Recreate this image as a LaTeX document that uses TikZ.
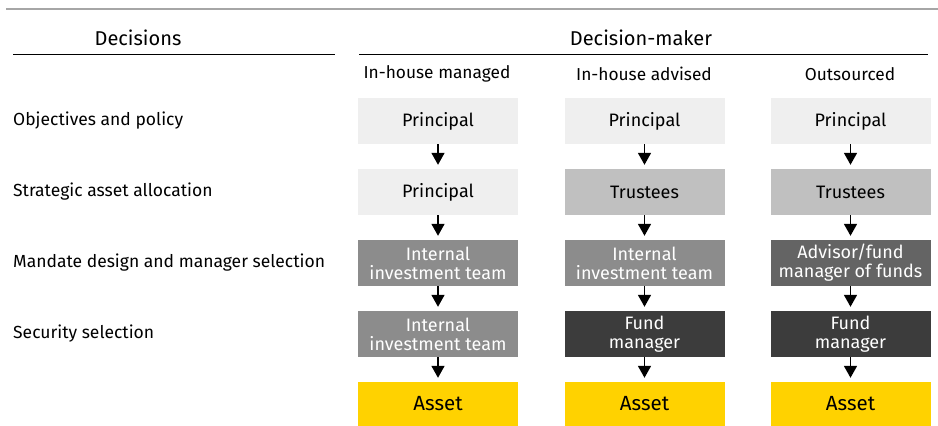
\documentclass[tikz,border=0pt]{standalone}
\usepackage{fontspec}
\setmainfont{Fira Sans}
\usetikzlibrary{arrows.meta}
\definecolor{rowA}{HTML}{EFEFEF}
\definecolor{rowB}{HTML}{C0C0C0}
\definecolor{rowC}{HTML}{8C8C8C}
\definecolor{rowD}{HTML}{646464}
\definecolor{rowE}{HTML}{3C3C3C}
\definecolor{eyyellow}{HTML}{FFD200}
\definecolor{topline}{HTML}{A6A6A6}
\begin{document}
\begin{tikzpicture}[x=1pt,y=1pt,
  box/.style={minimum width=160pt, minimum height=46pt, inner sep=0pt, align=center,
    font=\fontsize{18}{19}\selectfont},
  light/.style={box, fill=rowA, text=black},
  mid/.style={box, fill=rowB, text=black},
  gray/.style={box, fill=rowC, text=white},
  dgray/.style={box, fill=rowD, text=white},
  dark/.style={box, fill=rowE, text=white},
  asset/.style={box, fill=eyyellow, text=black, minimum height=44pt, font=\fontsize{20.5}{20.5}\selectfont},
  lab/.style={anchor=west, inner sep=0pt, font=\fontsize{17.5}{17.5}\selectfont},
  sub/.style={inner sep=0pt, font=\fontsize{17.3}{17.3}\selectfont},
  head/.style={inner sep=0pt, font=\fontsize{20}{20}\selectfont},
  arr/.style={line width=1.6pt, shorten >=4pt, -{Triangle[width=13pt,length=12pt]}}]
\useasboundingbox (0,0) rectangle (938,426);
\coordinate (tl) at (6,417);
\coordinate (tr) at (938,417);
\draw[topline, line width=2pt] (tl) -- (tr);
\node[head] (hdec) at (138,388) {Decisions};
\node[head] (hdm) at (641,388) {Decision-maker};
\coordinate (r1a) at (13,371);
\coordinate (r1b) at (335,371);
\coordinate (r2a) at (359,371);
\coordinate (r2b) at (928,371);
\draw[line width=1pt] (r1a) -- (r1b);
\draw[line width=1pt] (r2a) -- (r2b);
\node[sub] (s1) at (437,352) {In-house managed};
\node[sub] (s2) at (644,352) {In-house advised};
\node[sub] (s3) at (850,352) {Outsourced};
\node[lab] (l1) at (13,305) {Objectives and policy};
\node[lab] (l2) at (13,234) {Strategic asset allocation};
\node[lab] (l3) at (13,163) {Mandate design and manager selection};
\node[lab] (l4) at (13,92) {Security selection};
% column 1
\node[light] (a1) at (438,305) {Principal};
\node[light] (a2) at (438,234) {Principal};
\node[gray]  (a3) at (438,163) {Internal\\investment team};
\node[gray]  (a4) at (438,92)  {Internal\\investment team};
\node[asset] (a5) at (438,22)  {Asset};
% column 2
\node[light] (b1) at (644.5,305) {Principal};
\node[mid]   (b2) at (644.5,234) {Trustees};
\node[gray]  (b3) at (644.5,163) {Internal\\investment team};
\node[dark]  (b4) at (644.5,92)  {Fund\\manager};
\node[asset] (b5) at (644.5,22)  {Asset};
% column 3
\node[light] (c1) at (850.5,305) {Principal};
\node[mid]   (c2) at (850.5,234) {Trustees};
\node[dgray] (c3) at (850.5,163) {Advisor/fund\\manager of funds};
\node[dark]  (c4) at (850.5,92)  {Fund\\manager};
\node[asset] (c5) at (850.5,22)  {Asset};
\foreach \c in {a,b,c}{
  \draw[arr] (\c1.south) -- (\c2.north);
  \draw[arr] (\c2.south) -- (\c3.north);
  \draw[arr] (\c3.south) -- (\c4.north);
  \draw[arr] (\c4.south) -- (\c5.north);
}
\end{tikzpicture}
\end{document}
